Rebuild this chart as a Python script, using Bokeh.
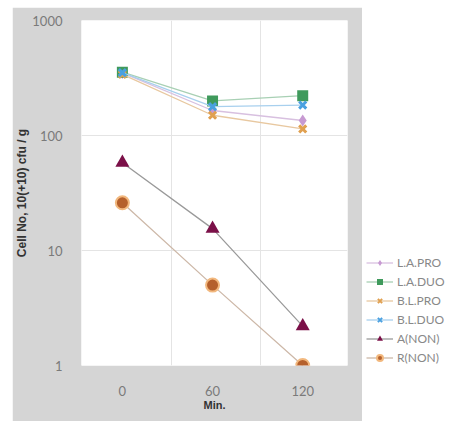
from bokeh.plotting import figure
from bokeh.layouts import row
from bokeh.models import (FixedTicker, NumeralTickFormatter,
                          Legend, LegendItem, Range1d)
from bokeh.embed import file_html
from bokeh.resources import INLINE

# ---- data ----
minutes = [0, 60, 120]
la_pro = [350, 165, 135]
la_duo = [355, 200, 222]
bl_pro = [340, 150, 114]
bl_duo = [352, 178, 184]
a_non = [58, 15.5, 2.2]
r_non = [26, 5.0, 1.0]
series_labels = ["L.A.PRO", "L.A.DUO", "B.L.PRO", "B.L.DUO", "A(NON)", "R(NON)"]
x_ticks = [0, 60, 120]
y_ticks = [1, 10, 100, 1000]

GREY = "#d5d5d5"

p = figure(width=350, height=414, x_range=Range1d(-27.2, 149.8),
           y_range=Range1d(1, 1000), y_axis_type="log",
           output_backend="svg", toolbar_location=None,
           min_border_left=68, min_border_right=15,
           min_border_top=13, min_border_bottom=56)
p.margin = (7, 0, 0, 12)
p.border_fill_color = GREY
p.background_fill_color = "white"
p.outline_line_color = None

# legend-only figure on the white strip at the right
q = figure(width=104, height=421, x_range=Range1d(1000, 1001),
           y_range=Range1d(1000, 1001), output_backend="svg",
           toolbar_location=None, min_border=0,
           x_axis_location=None, y_axis_location=None)
q.grid.visible = False
q.outline_line_color = None
q.border_fill_color = "white"
q.background_fill_color = "white"

# ---- series ----
specs = [
    (la_pro, "diamond", "#c79ad2", "#d8c0e0", 12),
    (la_duo, "square", "#3f9a5c", "#a8d0b4", 11),
    (bl_pro, "x", "#e0a050", "#e8c8a0", 10),
    (bl_duo, "x", "#4aa0e0", "#a8d0ee", 10),
    (a_non, "triangle", "#7b1048", "#9a9a9a", 14),
    (r_non, "circle", "#b5602c", "#cdb8a8", 13),
]


def draw(fig, vals, marker, col, lcol, size, in_legend=False):
    s = size - 2 if in_legend else size
    lr = fig.line(minutes, vals, line_color=lcol, line_width=1.3)
    if marker == "x":
        sr = fig.scatter(minutes, vals, marker=marker, size=s,
                         line_color=col, line_width=2 if in_legend else 3)
    elif marker == "circle":
        sr = fig.scatter(minutes, vals, marker=marker, size=s,
                         fill_color=col, line_color="#f2b87e", line_width=2)
    else:
        sr = fig.scatter(minutes, vals, marker=marker, size=s,
                         fill_color=col, line_color=None)
    return lr, sr


items = []
for (vals, marker, col, lcol, size), lab in zip(specs, series_labels):
    draw(p, vals, marker, col, lcol, size)
    lr, sr = draw(q, vals, marker, col, lcol, size, in_legend=True)
    items.append(LegendItem(label=lab, renderers=[lr, sr]))

legend = Legend(items=items, location=(4, 0), border_line_color=None,
                background_fill_alpha=0, glyph_width=27, glyph_height=15,
                label_height=15, spacing=4, padding=0, margin=0,
                label_standoff=4, label_text_font="Lato",
                label_text_font_size="12px", label_text_color="#888888")
q.add_layout(legend, "center")

# ---- axes ----
p.xaxis.ticker = FixedTicker(ticks=x_ticks)
p.yaxis.ticker = FixedTicker(ticks=y_ticks)
p.yaxis.formatter = NumeralTickFormatter(format="0")
p.xgrid.ticker = FixedTicker(ticks=[32.5, 92.2])
p.ygrid.ticker = FixedTicker(ticks=[10, 100])
for g in (p.xgrid, p.ygrid):
    g.grid_line_color = "#e4e4e4"
    g.grid_line_width = 1

for ax in (p.xaxis, p.yaxis):
    ax.axis_line_color = None
    ax.major_tick_line_color = None
    ax.minor_tick_line_color = None
    ax.major_label_text_font = "Lato"
    ax.major_label_text_font_size = "13px"
    ax.major_label_text_color = "#7a7a7a"
    ax.axis_label_text_font = "Liberation Sans"
    ax.axis_label_text_font_style = "bold"
    ax.axis_label_text_color = "#333333"

p.xaxis.major_label_standoff = 14
p.yaxis.major_label_standoff = 13
p.xaxis.axis_label = "Min."
p.xaxis.axis_label_text_font_size = "11px"
p.xaxis.axis_label_standoff = 0
p.yaxis.axis_label = "Cell No, 10(+10) cfu / g"
p.yaxis.axis_label_text_font_size = "12px"
p.yaxis.axis_label_standoff = 0

layout = row(p, q)
open("out.html", "w").write(file_html(layout, INLINE))
